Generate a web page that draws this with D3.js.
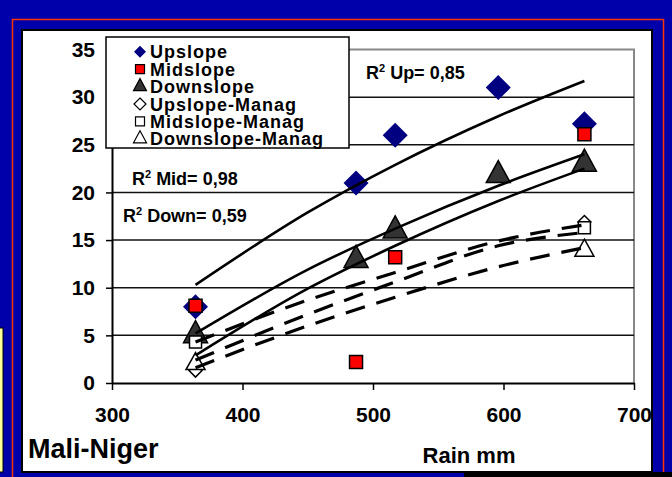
<!DOCTYPE html>
<html>
<head>
  <meta charset="utf-8">
  <style>
    body { margin: 0; background-color: #0000aa; }
    svg { display: block; }
    text { font-family: "Liberation Sans", Arial, sans-serif; font-weight: bold; fill: #000; }
  </style>
</head>
<body>
  <div id="chart"></div>

  <script src="https://d3js.org/d3.v7.min.js"></script>
  <script>

    // rain (mm) for each measured plot
    var rain = [364, 487, 517, 596, 662]
    var upslope = [8.0, 21.0, 26.0, 31.0, 27.2]
    var midslope = [8.1, 2.2, 13.2, null, 26.1]
    var downslope = [5.0, 12.9, 16.0, 21.8, 23.0]
    var upslopeManag = [1.3, null, null, null, 16.9]
    var midslopeManag = [4.3, null, null, null, 16.3]
    var downslopeManag = [2.0, null, null, null, 13.9]

    // trend lines
    var trendRain = [364, 450, 517, 596, 662]
    var upTrend = [10.3, 17.9, 22.9, 28.0, 31.7]
    var downTrend = [5.2, 11.9, 16.2, 20.7, 24.0]
    var midTrend = [2.9, 9.9, 14.4, 19.1, 22.5]
    var midManagTrend = [4.3, 8.7, 11.6, 14.9, 16.6]
    var upManagTrend = [2.4, 7.2, 10.6, 14.4, 15.8]
    var downManagTrend = [1.6, 6.0, 9.0, 12.2, 14.2]

    var xTicks = [300, 400, 500, 600, 700]
    var yTicks = [0, 5, 10, 15, 20, 25, 30, 35]
    var legendNames = ["Upslope", "Midslope", "Downslope", "Upslope-Manag", "Midslope-Manag", "Downslope-Manag"]
    var r2Labels = [
      {series: "Up", value: "0,85"},
      {series: "Mid", value: "0,98"},
      {series: "Down", value: "0,59"}
    ]

    var draw_chart = function () {
      var W = 672, H = 477

      var svg = d3.select("#chart").append("svg")
          .attr("width", W)
          .attr("height", H)

      // slide frame
      svg.append("rect").attr("x", 0).attr("y", 0).attr("width", W).attr("height", H).attr("fill", "#0000aa")
      svg.append("rect").attr("x", 12.5).attr("y", 19.5).attr("width", 651).attr("height", 480)
          .attr("fill", "none").attr("stroke", "#ff3300").attr("stroke-width", 1.5)
      svg.append("rect").attr("x", -2).attr("y", 328).attr("width", 5).attr("height", 144)
          .attr("fill", "#ffff99").attr("stroke", "#000").attr("stroke-width", 1)
      svg.append("rect").attr("x", 22).attr("y", 30).attr("width", 630).attr("height", 442)
          .attr("fill", "#fff").attr("stroke", "#000").attr("stroke-width", 2)
      svg.append("rect").attr("x", 464).attr("y", 472).attr("width", 210).attr("height", 6).attr("fill", "#000")

      var x = d3.scaleLinear().domain([300, 700]).range([112, 634])
      var y = d3.scaleLinear().domain([0, 35]).range([383, 49.5])

      // plot border (gray top and right)
      svg.append("path")
          .attr("d", "M" + x(300) + "," + y(35) + "H" + x(700) + "V" + y(0))
          .attr("fill", "none").attr("stroke", "#888").attr("stroke-width", 2)

      // gridlines
      svg.append("g").selectAll("line")
          .data(yTicks.filter(function (d) { return d > 0 && d < 35 }))
          .enter().append("line")
          .attr("x1", x(300)).attr("x2", x(700))
          .attr("y1", function (d) { return y(d) }).attr("y2", function (d) { return y(d) })
          .attr("stroke", "#111").attr("stroke-width", 1.5)

      var xAxis = d3.axisBottom(x).tickValues(xTicks).tickSize(7).tickSizeOuter(0).tickPadding(12)
      var yAxis = d3.axisLeft(y).tickValues(yTicks).tickSize(6).tickSizeOuter(0).tickPadding(11)

      var gx = svg.append("g").attr("transform", "translate(0," + y(0) + ")").call(xAxis)
      var gy = svg.append("g").attr("transform", "translate(" + x(300) + ",0)").call(yAxis)
      ;[gx, gy].forEach(function (g) {
        g.select(".domain").attr("stroke", "#000").attr("stroke-width", 2)
        g.selectAll(".tick line").attr("stroke", "#000").attr("stroke-width", 1.5)
        g.selectAll(".tick text").style("font-size", "21px").style("font-family", "Liberation Sans, Arial").style("font-weight", "bold").attr("fill", "#000")
      })
      gx.selectAll(".tick text").attr("dy", "0.95em")

      // marker shapes
      function diamond(r) { return "M0," + (-r) + "L" + r + ",0L0," + r + "L" + (-r) + ",0Z" }
      function square(s) { return "M" + (-s / 2) + "," + (-s / 2) + "h" + s + "v" + s + "h" + (-s) + "Z" }
      function triangle(w, h) { return "M0," + (-h * 2 / 3) + "L" + (w / 2) + "," + (h / 3) + "L" + (-w / 2) + "," + (h / 3) + "Z" }

      var series = [
        {values: upslope, path: diamond(12.5), legend: diamond(6), fill: "#000080", stroke: "none"},
        {values: midslope, path: square(13), legend: square(9), fill: "#ff0000", stroke: "#000"},
        {values: downslope, path: triangle(24, 22), legend: triangle(13, 12), fill: "#333", stroke: "#000"},
        {values: upslopeManag, path: diamond(6.5), legend: diamond(6), fill: "#fff", stroke: "#000"},
        {values: midslopeManag, path: square(12), legend: square(9), fill: "#fff", stroke: "#000"},
        {values: downslopeManag, path: triangle(19, 17), legend: triangle(13, 12), fill: "#fff", stroke: "#000"}
      ]

      series.forEach(function (s) {
        svg.append("g").selectAll("path")
            .data(rain.map(function (r, i) { return {r: r, v: s.values[i]} }).filter(function (d) { return d.v != null }))
            .enter().append("path")
            .attr("d", s.path)
            .attr("transform", function (d) { return "translate(" + x(d.r) + "," + y(d.v) + ")" })
            .attr("fill", s.fill)
            .attr("stroke", s.stroke)
            .attr("stroke-width", 1.5)
      })

      // trend lines
      var line = d3.line()
          .x(function (d) { return x(d[0]) })
          .y(function (d) { return y(d[1]) })
          .curve(d3.curveMonotoneX)

      var trends = [
        {values: upTrend, dash: null},
        {values: downTrend, dash: null},
        {values: midTrend, dash: null},
        {values: midManagTrend, dash: "20,12"},
        {values: upManagTrend, dash: "20,12"},
        {values: downManagTrend, dash: "20,12"}
      ]
      trends.forEach(function (t) {
        svg.append("path")
            .datum(trendRain.map(function (r, i) { return [r, t.values[i]] }))
            .attr("d", line)
            .attr("fill", "none")
            .attr("stroke", "#000")
            .attr("stroke-width", t.dash ? 3.2 : 2.6)
            .attr("stroke-dasharray", t.dash)
      })

      // legend
      svg.append("rect").attr("x", 106).attr("y", 37).attr("width", 243).attr("height", 111)
          .attr("fill", "#fff").attr("stroke", "#000").attr("stroke-width", 1.5)
      var leg = svg.append("g").selectAll("g")
          .data(legendNames)
          .enter().append("g")
          .attr("transform", function (d, i) { return "translate(0," + (58.3 + i * 17.4) + ")" })
      leg.append("path")
          .attr("d", function (d, i) { return series[i].legend })
          .attr("transform", "translate(140,-6.5)")
          .attr("fill", function (d, i) { return series[i].fill })
          .attr("stroke", function (d, i) { return series[i].stroke })
          .attr("stroke-width", 1.2)
      leg.append("text")
          .attr("x", 150)
          .style("font-size", "18px")
          .style("letter-spacing", "1px")
          .text(function (d) { return d })

      // R2 labels
      var r2pos = [[366, 79], [132, 185], [123, 222]]
      r2Labels.forEach(function (d, i) {
        var t = svg.append("text").attr("x", r2pos[i][0]).attr("y", r2pos[i][1]).style("font-size", "18px")
        t.append("tspan").text("R")
        t.append("tspan").attr("dy", -7).style("font-size", "11px").text("2")
        t.append("tspan").attr("dy", 7).text(" " + d.series + "= " + d.value)
      })

      // axis titles
      svg.append("clipPath").attr("id", "yclip")
          .append("rect").attr("x", 20).attr("y", 223).attr("width", 60).attr("height", 120)
      svg.append("text")
          .attr("clip-path", "url(#yclip)")
          .attr("transform", "translate(48,311) rotate(-90)")
          .style("font-size", "21px")
          .text("Runoff %")

      svg.append("text").attr("x", 469).attr("y", 463).attr("text-anchor", "middle")
          .style("font-size", "22px").text("Rain mm")
      svg.append("text").attr("x", 28).attr("y", 458)
          .style("font-size", "27px").text("Mali-Niger")
    }

    draw_chart()

  </script>
</body>
</html>
